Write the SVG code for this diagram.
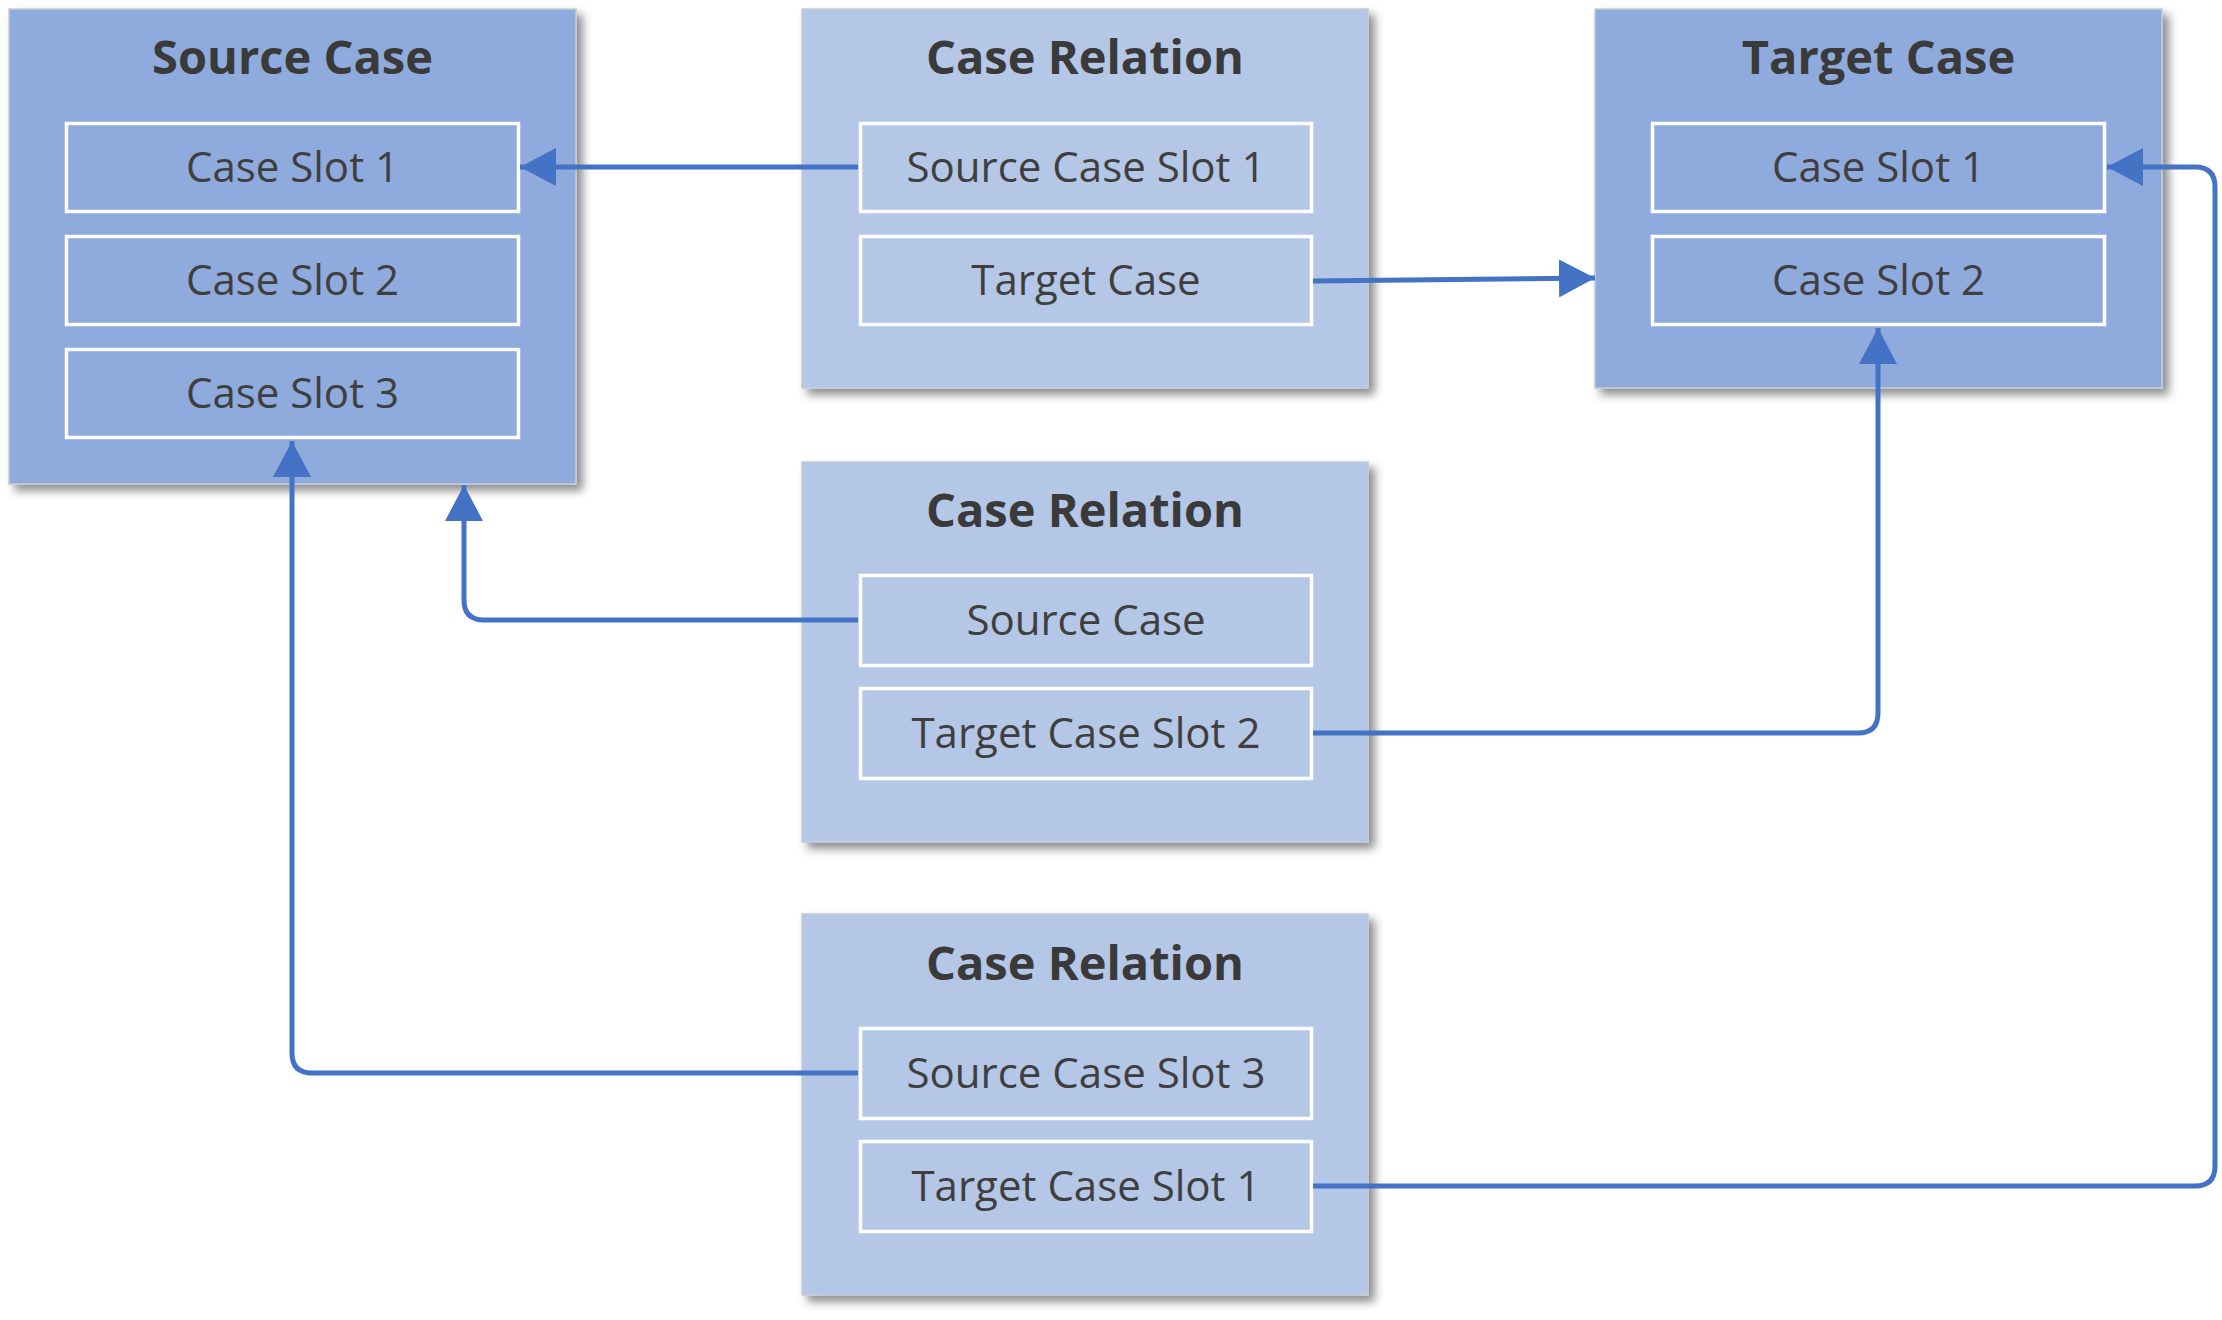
<svg xmlns="http://www.w3.org/2000/svg" width="2222" height="1320" viewBox="0 0 2222 1320">
<defs>
<style>
.box-dark{fill:#8FAADC;stroke:#c4cbd8;stroke-width:1.5}
.box-light{fill:#B4C7E7;stroke:#c4cbd8;stroke-width:1.5}
.slot-dark{fill:#8FAADC;stroke:#ffffff;stroke-width:3.5}
.slot-light{fill:#B4C7E7;stroke:#ffffff;stroke-width:3.5}
.title{font-family:"Open Sans","Noto Sans","DejaVu Sans",sans-serif;font-weight:700;font-size:47px;fill:#3a3a3a;text-anchor:middle}
.label{font-family:"Open Sans","Noto Sans","DejaVu Sans",sans-serif;font-weight:400;font-size:42px;fill:#3f3f3f;text-anchor:middle}
.conn{fill:none;stroke:#4472C4;stroke-width:5;stroke-linejoin:round}
</style>
<filter id="shadow" x="-10%" y="-10%" width="125%" height="125%">
<feDropShadow dx="6" dy="6" stdDeviation="5" flood-color="#000000" flood-opacity="0.45"/>
</filter>
<marker id="arrow" markerUnits="userSpaceOnUse" markerWidth="36" markerHeight="38" refX="36" refY="19" orient="auto" viewBox="0 0 36 38">
<path d="M0,0 L36,19 L0,38 Z" fill="#4472C4"/>
</marker>
</defs>
<rect width="2222" height="1320" fill="#ffffff"/>

<g id="source-case">
<rect class="box-dark" x="9" y="9" width="567" height="475" filter="url(#shadow)"/>
<text class="title" x="292.5" y="74">Source Case</text>
<rect class="slot-dark" x="66.5" y="123.5" width="452" height="88"/>
<text class="label" x="292.5" y="182">Case Slot 1</text>
<rect class="slot-dark" x="66.5" y="236.5" width="452" height="88"/>
<text class="label" x="292.5" y="295">Case Slot 2</text>
<rect class="slot-dark" x="66.5" y="349.5" width="452" height="88"/>
<text class="label" x="292.5" y="408">Case Slot 3</text>
</g>

<g id="case-relation-1">
<rect class="box-light" x="802" y="9" width="566" height="379" filter="url(#shadow)"/>
<text class="title" x="1085" y="74">Case Relation</text>
<rect class="slot-light" x="860.5" y="123.5" width="451" height="88"/>
<text class="label" x="1086" y="182">Source Case Slot 1</text>
<rect class="slot-light" x="860.5" y="236.5" width="451" height="88"/>
<text class="label" x="1086" y="295">Target Case</text>
</g>

<g id="target-case">
<rect class="box-dark" x="1595" y="9" width="567" height="379" filter="url(#shadow)"/>
<text class="title" x="1878.5" y="74">Target Case</text>
<rect class="slot-dark" x="1652.5" y="123.5" width="452" height="88"/>
<text class="label" x="1878.5" y="182">Case Slot 1</text>
<rect class="slot-dark" x="1652.5" y="236.5" width="452" height="88"/>
<text class="label" x="1878.5" y="295">Case Slot 2</text>
</g>

<g id="case-relation-2">
<rect class="box-light" x="802" y="462" width="566" height="380" filter="url(#shadow)"/>
<text class="title" x="1085" y="527">Case Relation</text>
<rect class="slot-light" x="860.5" y="575.5" width="451" height="90"/>
<text class="label" x="1086" y="635">Source Case</text>
<rect class="slot-light" x="860.5" y="688.5" width="451" height="90"/>
<text class="label" x="1086" y="748">Target Case Slot 2</text>
</g>

<g id="case-relation-3">
<rect class="box-light" x="802" y="914" width="566" height="381" filter="url(#shadow)"/>
<text class="title" x="1085" y="980">Case Relation</text>
<rect class="slot-light" x="860.5" y="1028.5" width="451" height="90"/>
<text class="label" x="1086" y="1088">Source Case Slot 3</text>
<rect class="slot-light" x="860.5" y="1141.5" width="451" height="90"/>
<text class="label" x="1086" y="1201">Target Case Slot 1</text>
</g>

<g id="connectors">
<path class="conn" d="M858,167 L520,167" marker-end="url(#arrow)"/>
<path class="conn" d="M1313,281 L1595,278" marker-end="url(#arrow)"/>
<path class="conn" d="M858,620 L484,620 Q464,620 464,600 L464,485" marker-end="url(#arrow)"/>
<path class="conn" d="M1313,733 L1858,733 Q1878,733 1878,713 L1878,328" marker-end="url(#arrow)"/>
<path class="conn" d="M858,1073 L312,1073 Q292,1073 292,1053 L292,441" marker-end="url(#arrow)"/>
<path class="conn" d="M1313,1186 L2195,1186 Q2215,1186 2215,1166 L2215,187 Q2215,167 2195,167 L2107,167" marker-end="url(#arrow)"/>
</g>
</svg>
